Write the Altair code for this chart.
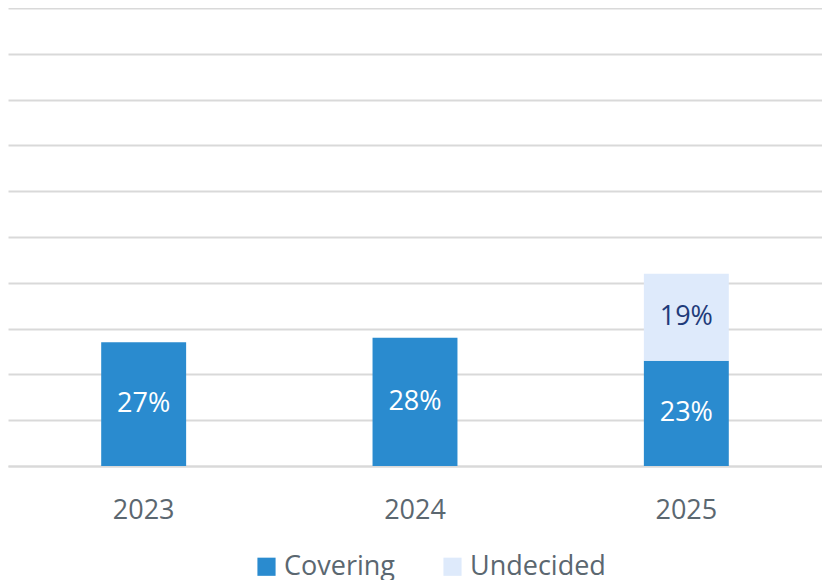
import altair as alt
import pandas as pd

years = ["2023", "2024", "2025"]
covering = [27, 28, 23]
undecided = [None, None, 19]
series_names = ["Covering", "Undecided"]
colors = ["#2a8bcf", "#deeafb"]

rows = []
for i, y in enumerate(years):
    rows.append({"year": y, "series": "Covering", "order": 0, "value": covering[i]})
    if undecided[i] is not None:
        rows.append({"year": y, "series": "Undecided", "order": 1, "value": undecided[i]})
df = pd.DataFrame(rows)

FONT = "Open Sans"
GRID = "#d9d9d9"

base = alt.Chart(df).transform_stack(
    stack="value", groupby=["year"], as_=["y0", "y1"], sort=[alt.SortField("order", "ascending")]
).transform_calculate(
    mid="(datum.y0 + datum.y1) / 2",
    label="datum.value + '%'"
)

xscale = alt.Scale(paddingInner=0.687, paddingOuter=0.3435)
yscale = alt.Scale(domain=[0, 100], nice=False)
xaxis = alt.Axis(labelAngle=0, labelFontSize=27, labelFont=FONT, labelColor="#5b6770",
                 ticks=False, domainColor=GRID, domainWidth=2, labelPadding=31, grid=False)
yaxis = alt.Axis(labels=False, ticks=False, domain=False, grid=True,
                 gridColor=GRID, gridWidth=2, values=list(range(0, 101, 10)))

bars = base.mark_bar().encode(
    x=alt.X("year:N", sort=years, title=None, scale=xscale, axis=xaxis),
    y=alt.Y("y0:Q", scale=yscale, title=None, axis=yaxis),
    y2="y1:Q",
    color=alt.Color("series:N", scale=alt.Scale(domain=series_names, range=colors),
                    legend=alt.Legend(title=None, orient="none", direction="horizontal",
                                      legendX=245, legendY=545,
                                      labelFontSize=27, labelFont=FONT, labelColor="#5b6770",
                                      symbolType="square", symbolSize=330, symbolStrokeWidth=0,
                                      columnPadding=44, labelOffset=4)),
)

texts = base.mark_text(fontSize=27, font=FONT).encode(
    x=alt.X("year:N", sort=years, title=None, scale=xscale, axis=xaxis),
    y=alt.Y("mid:Q", scale=yscale, title=None, axis=yaxis),
    text="label:N",
    color=alt.condition(alt.datum.series == "Covering", alt.value("white"), alt.value("#1f3b7a")),
)

chart = alt.layer(bars, texts).properties(
    width=814, height=458, padding=0
).configure_view(stroke=None)

chart.save("out.html", embed_options={"renderer": "svg", "actions": False})
